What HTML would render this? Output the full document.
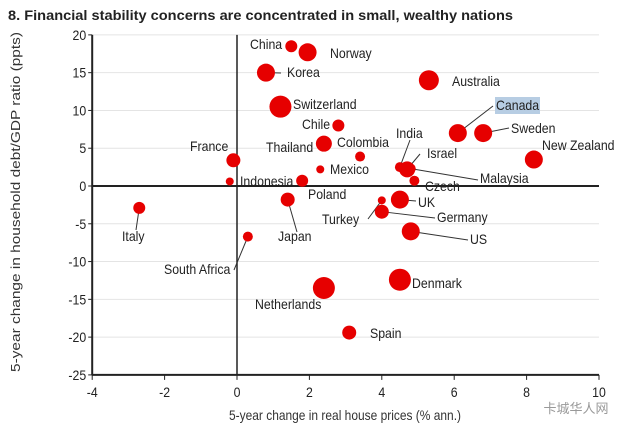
<!DOCTYPE html>
<html><head><meta charset="utf-8"><style>
body{margin:0;background:#fff;width:640px;height:436px;overflow:hidden}
svg{font-family:"Liberation Sans",sans-serif}
</style></head><body>
<svg id="chart" width="640" height="436" viewBox="0 0 640 436" xmlns="http://www.w3.org/2000/svg">
<text x="8" y="20" font-weight="bold" font-size="14" fill="#222" textLength="505" lengthAdjust="spacingAndGlyphs">8. Financial stability concerns are concentrated in small, wealthy nations</text>
<g id="grid"></g><g id="axes"></g><g id="leaders"></g><g id="dots"></g><g id="labels"></g>
<text x="345" y="420" text-anchor="middle" font-size="14" fill="#333" textLength="232" lengthAdjust="spacingAndGlyphs">5-year change in real house prices (% ann.)</text>
<text transform="translate(20,202) rotate(-90)" text-anchor="middle" font-size="13" fill="#333" textLength="340" lengthAdjust="spacingAndGlyphs">5-year change in household debt/GDP ratio (ppts)</text>
<text x="576" y="413" text-anchor="middle" font-family="Liberation Sans, Noto Sans CJK SC, sans-serif" font-size="13" fill="#999">卡城华人网</text>
</svg>
<script>
const countries=["China","Norway","Korea","Australia","Switzerland","Chile","Canada","Sweden","Thailand","Colombia","India","Israel","New Zealand","France","Mexico","Malaysia","Czech","Indonesia","Poland","UK","Japan","Turkey","Germany","Italy","US","South Africa","Denmark","Netherlands","Spain"];
const housePrices=[1.5,1.95,0.8,5.3,1.2,2.8,6.1,6.8,2.4,3.4,4.5,4.7,8.2,-0.1,2.3,4.8,4.9,-0.2,1.8,4.5,1.4,4.0,4.0,-2.7,4.8,0.3,4.5,2.4,3.1];
const debtChange=[18.5,17.7,15,14,10.5,8,7,7,5.6,3.9,2.5,2.2,3.5,3.4,2.2,2.3,0.7,0.6,0.7,-1.8,-1.8,-1.9,-3.4,-2.9,-6,-6.7,-12.4,-13.5,-19.4];
const bubbleSize=[6,9,9,10,11,6,9,9,8,5,5,8,9,7,4,5,5,4,6,9,7,4,7,6,9,5,11,11,7];
const labelX=[250,330,287,452,293,302,496,511,266,337,396,427,542,190,330,480,425,240,308,418,278,322,437,122,470,164,412,255,370];
const labelY=[49,58,77,86,109,129,110,133,152,147,138,158,150,151,174,183,191,186,199,207,241,224,222,241,244,274,288,309,338];
const leaderX=[null,null,281,null,null,null,493,509,null,null,410,420,null,null,null,478,null,null,null,416,297,368,435,136,468,234,null,null,null];
const leaderY=[null,null,73,null,null,null,106,128,null,null,140,154,null,null,null,180,null,null,null,201,232,219,218,230,240,270,null,null,null];
const xTicks=[-4,-2,0,2,4,6,8,10];
const yTicks=[20,15,10,5,0,-5,-10,-15,-20,-25];
const X=v=>237+v*36.2, Y=v=>186-v*7.556;
const ns="http://www.w3.org/2000/svg";
function mk(t,a,p){const e=document.createElementNS(ns,t);for(const k in a)e.setAttribute(k,a[k]);p.appendChild(e);return e;}
function narrowText(p,x,y,s,size,anchor){const t=mk('text',{transform:`translate(${x},${y}) scale(0.88,1)`,'font-size':size,fill:'#222','text-anchor':anchor||'start'},p);t.textContent=s;return t;}
const grid=document.getElementById('grid'),axes=document.getElementById('axes'),dots=document.getElementById('dots'),labels=document.getElementById('labels'),leaders=document.getElementById('leaders');
yTicks.forEach(t=>{
 const g=mk('line',{x1:X(-4),x2:X(10),y1:Y(t),y2:Y(t),stroke:'#e4e4e4','stroke-width':1},grid);
 
 
 const tk=mk('line',{x1:X(-4)-4,x2:X(-4),y1:Y(t),y2:Y(t),stroke:'#222'},axes);
 
 
 const l=narrowText(axes,X(-4)-6,Y(t)+5,t,14,'end');
 
 
});
xTicks.forEach(t=>{
 const tk=mk('line',{x1:X(t),x2:X(t),y1:Y(-25),y2:Y(-25)+5,stroke:'#222'},axes);
 
 
 const l=narrowText(axes,X(t),Y(-25)+22,t,14,'middle');
 
 
});
[[X(-4),Y(20),X(-4),Y(-25),2],[X(-4),Y(-25),X(10),Y(-25),2],[X(0),Y(20),X(0),Y(-25),1.5],[X(-4),Y(0),X(10),Y(0),2]].forEach(a=>{
 const l=mk('line',{x1:a[0],y1:a[1],x2:a[2],y2:a[3],stroke:'#222','stroke-width':a[4]},axes);
 
 
});
countries.forEach((c,i)=>{
 const cx=X(housePrices[i]),cy=Y(debtChange[i]);
 if(leaderX[i]!==null){
  const ln=mk('line',{x1:cx,y1:cy,x2:leaderX[i],y2:leaderY[i],stroke:'#333','stroke-width':1},leaders);
  
  
 }
 const d=mk('circle',{cx:cx,cy:cy,r:bubbleSize[i],fill:'#e60000'},dots);
 
 
 if(c==="Canada"){const b=mk('rect',{x:labelX[i]-1,y:labelY[i]-13,width:45,height:17,fill:'#b7cde3'},labels);
  
  }
 const t=narrowText(labels,labelX[i],labelY[i],c,14);
 
 
});
</script>
</body></html>
